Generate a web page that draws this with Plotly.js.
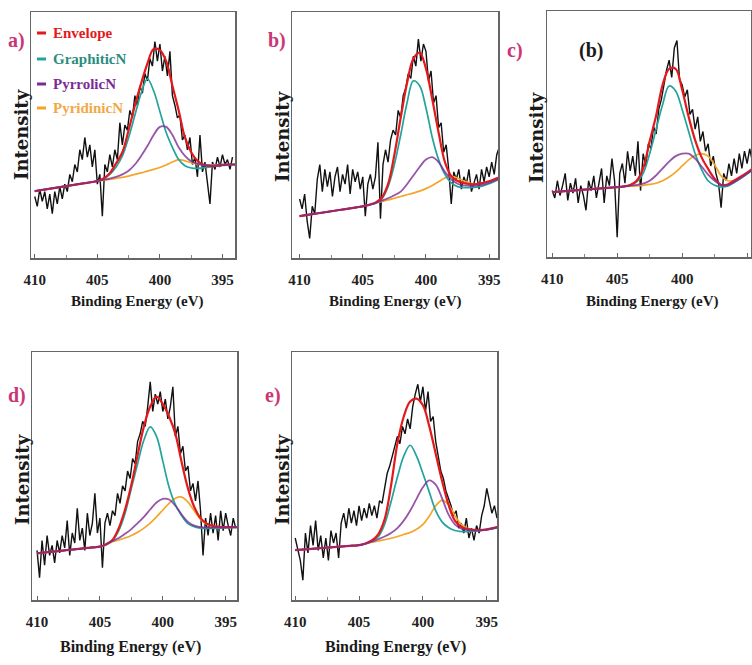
<!DOCTYPE html>
<html><head><meta charset="utf-8">
<script src="https://cdn.plot.ly/plotly-3.0.1.min.js"></script>
<style>html,body{margin:0;padding:0;background:#fff}#chart{width:752px;height:665px}</style>
</head><body><div id="chart"></div>
<script>
// Binding energy grids (eV)
const RAW_X = [
410.0,409.8,409.6,409.4,409.2,409.0,408.8,408.6,408.4,408.2,
408.0,407.8,407.6,407.4,407.2,407.0,406.8,406.6,406.4,406.2,
406.0,405.8,405.6,405.4,405.2,405.0,404.8,404.6,404.4,404.2,
404.0,403.8,403.6,403.4,403.2,403.0,402.8,402.6,402.4,402.2,
402.0,401.8,401.6,401.4,401.2,401.0,400.8,400.6,400.4,400.2,
400.0,399.8,399.6,399.4,399.2,399.0,398.8,398.6,398.4,398.2,
398.0,397.8,397.6,397.4,397.2,397.0,396.8,396.6,396.4,396.2,
396.0,395.8,395.6,395.4,395.2,395.0,394.8,394.6,394.4,394.2];
const FIT_X = [410,409.5,409,408.5,408,407.5,407,406.5,406,405.5,405,404.5,404,403.5,403,402.5,402,401.5,401,400.5,400,399.5,399,398.5,398,397.5,397,396.5,396,395.5,395,394.5,394];

// Panel a
const RAW_A = [25,21,28,23,27,20,26,18,27,22, 29,24,30,27,34,31,38,35,44,40, 49,41,46,37,44,30,34,17,38,35, 42,37,44,40,55,46,54,52,60,57, 66,62,70,67,75,72,81,78,88,80, 87,76,82,74,84,66,62,57,58,48, 50,44,49,38,41,33,50,35,39,30, 22,39,36,41,37,42,38,40,36,41];
const ENV_A = [27.2,27.6,28.0,28.4,28.8,29.2,29.6,30.0,30.4,30.8,31.3,32.3,34.5,38.5,43,52,62,71,79,85,84.5,80,70,60,49,43,39.5,37.8,37.4,37.5,37.8,38,38];
const GRA_A = [27.2,27.6,28.0,28.4,28.8,29.2,29.6,30.0,30.4,30.8,31.3,32.2,34,37,41.5,49,58,67,72.8,68,59.5,51,45,40,37.5,36.6,36.4,36.6,37,37.3,37.6,37.8,38];
const PYR_A = [27.2,27.6,28.0,28.4,28.8,29.2,29.6,30.0,30.4,30.8,31.3,31.8,32.3,33,34,35.5,38,41.5,45.5,50,53.3,53.3,50,45,41.5,39.3,38.3,37.8,37.6,37.7,37.9,38,38];
const PYD_A = [27.2,27.6,28.0,28.4,28.8,29.2,29.6,30.0,30.4,30.8,31.3,31.6,32,32.4,32.8,33.3,34,34.6,35.3,36,36.8,37.8,39,40,39.5,38.7,38.2,38,37.9,37.9,38,38,38];

// Panel b
const RAW_B = [24,20,26,15,8,21,18,32,38,27, 36,29,35,25,33,37,27,34,30,38, 26,36,31,35,28,33,17,30,34,28, 33,47,16,38,44,39,48,52,50,60, 57,66,69,75,73,82,78,89,80,87, 84,72,76,63,66,53,55,43,46,36, 22,35,32,36,28,33,30,36,27,31, 34,28,36,31,37,33,39,34,42,45];
const ENV_B = [17,17.4,17.8,18.2,18.6,19,19.4,19.8,20.2,20.6,21,21.6,22.5,24.5,30,42,57,71,81,83.5,77,64.5,51,39,33.3,31.3,30.5,30,30,30.5,31.2,32.2,33];
const GRA_B = [17,17.4,17.8,18.2,18.6,19,19.4,19.8,20.2,20.6,21,21.6,22.3,24,29,38,50,63,72,70,61,49,40,34,30.5,29,28.6,28.6,28.8,29.3,30.2,31.3,32.5];
const PYR_B = [17,17.4,17.8,18.2,18.6,19,19.4,19.8,20.2,20.6,21,21.6,22.3,23.3,24.3,25.5,27,30,33.5,37,40,41,39,35,32,30.2,29.5,29.3,29.4,29.8,30.6,31.6,32.7];
const PYD_B = [17,17.4,17.8,18.2,18.6,19,19.4,19.8,20.2,20.6,21,21.6,22.3,23,23.6,24.3,25,25.7,26.4,27.2,28.2,29.5,31,32.5,33.2,32.5,31.3,30.4,30,30.3,31,32,33];

// Panel c
const RAW_C = [27,24,31,25,29,34,23,30,26,32, 22,29,25,19,31,27,33,24,30,36, 22,33,29,40,31,8,34,38,30,43, 35,41,33,47,27,42,37,46,44,53, 50,60,64,71,76,80,73,85,88,72, 70,65,68,58,60,52,57,47,51,43, 46,37,41,34,30,20,34,31,38,33, 40,34,42,36,43,38,44,39,45,41];
const ENV_C = [26.4,26.6,26.8,27,27.2,27.4,27.6,27.8,28,28.2,28.4,28.7,29.3,31,36,47,57.5,70,76.5,76.5,68,57,47.5,40.5,35.8,31.8,29.3,29.5,31,32.6,34.3,36.2,38];
const GRA_C = [26.4,26.6,26.8,27,27.2,27.4,27.6,27.8,28,28.2,28.4,28.6,29.2,30.5,34,42,52,62,69.5,67.5,60,51,42,35.5,31,29.2,28.5,28.8,30.3,32,33.8,35.8,37.8];
const PYR_C = [26.4,26.6,26.8,27,27.2,27.4,27.6,27.8,28,28.2,28.4,28.6,29,29.3,29.8,31,33.2,36,38.8,41,42,42,40,36.8,33.5,31,29.3,29.2,30.4,32,33.8,35.8,37.8];
const PYD_C = [26.4,26.6,26.8,27,27.2,27.4,27.6,27.8,28,28.2,28.4,28.6,28.8,28.9,29.1,29.5,30,31,32.5,34.5,37,39.5,41.3,42,41,37.5,33,31,31.2,32.5,34,36,38];

// Panel d
const RAW_D = [20,9,24,14,26,18,22,15,24,19, 26,21,32,18,27,23,37,24,29,20, 35,26,31,43,27,33,13,31,35,30, 36,34,43,39,46,44,52,49,57,55, 64,67,72,70,78,88,76,83,79,84, 76,81,73,78,86,66,70,59,62,52, 54,44,47,40,48,36,18,33,26,35, 27,34,24,36,28,35,30,26,33,29];
const ENV_D = [18.8,19.1,19.4,19.6,19.9,20.2,20.4,20.7,21,21.2,21.5,22.5,24.2,29,36.5,46.5,58.5,70,78,82,79,74,67,55.5,45,37.5,33,30.8,29.8,29.5,29.4,29.4,29.4];
const GRA_D = [18.8,19.1,19.4,19.6,19.9,20.2,20.4,20.7,21,21.2,21.5,22.4,24,28,35,45,55,64.5,69.8,66,56,45.5,38.5,34,30.8,29.6,29,28.9,28.9,29,29.1,29.2,29.3];
const PYR_D = [18.8,19.1,19.4,19.6,19.9,20.2,20.4,20.7,21,21.2,21.5,22.5,23.8,25,26.7,28.6,31,33.5,36.5,39.3,40.8,40.5,38,34.5,31.5,30,29.4,29.2,29.2,29.3,29.3,29.4,29.4];
const PYD_D = [18.8,19.1,19.4,19.6,19.9,20.2,20.4,20.7,21,21.2,21.5,22.2,23.5,24.2,25,26,27.3,29,31,33.5,36.3,39,41,41.5,39.5,36,32.5,30.5,29.6,29.4,29.4,29.4,29.4];

// Panel e
const RAW_E = [25,21,16,8,27,19,30,22,32,20, 26,17,25,16,28,23,27,17,31,35, 29,37,31,36,30,38,32,37,33,39, 34,38,33,40,39,45,51,54,58,62, 66,63,70,67,73,69,78,83,87,80, 86,76,84,72,74,64,58,52,49,44, 41,38,34,36,29,31,27,33,25,29, 24,30,27,34,38,45,40,35,38,33];
const ENV_E = [20.1,20.3,20.5,20.7,20.9,21.1,21.3,21.5,21.7,21.9,22.1,22.8,24,26.5,32.5,46,63,74,80,81.2,78.5,70,59,48,38.5,32,29.5,28.6,28.3,28.2,28.5,29,29.6];
const GRA_E = [20.1,20.3,20.5,20.7,20.9,21.1,21.3,21.5,21.7,21.9,22.1,22.7,23.9,25.5,30.5,39.5,49.5,58,62.4,58,51,43.5,36,31.5,29.2,28,27.6,27.6,27.8,28,28.3,28.8,29.4];
const PYR_E = [20.1,20.3,20.5,20.7,20.9,21.1,21.3,21.5,21.7,21.9,22.1,22.7,23.5,24.5,25.6,27,29,32,36,40.8,45.5,48.2,46.5,41,34.5,30.5,28.8,28.2,28.1,28.1,28.4,28.9,29.5];
const PYD_E = [20.1,20.3,20.5,20.7,20.9,21.1,21.3,21.5,21.7,21.9,22.1,22.6,23.3,23.8,24.3,24.9,25.6,26.4,27.2,28.5,30.5,33.8,38,40.2,38.5,34,30.5,28.8,28.2,28.1,28.4,28.9,29.5];

const X_TICKS = [410,405,400,395];
const X_MINOR = [407.5,402.5,397.5];
const PANEL_LABELS = ['a)','b)','c)','d)','e)'];
const LEGEND_NAMES = ['Envelope','GraphiticN','PyrrolicN','PyridinicN'];
const X_TITLE = 'Binding Energy (eV)';
const Y_TITLE = 'Intensity';

const W = 752, H = 665;
const fx = p => p / W, fy = p => 1 - p / H;
const C = {raw:'#111111', env:'#e3191c', gra:'#22a39c', pyr:'#7d2a95', pyd:'#f5a52a'};
const SERIF = 'Liberation Serif';

const panels = [
  {raw:RAW_A, env:ENV_A, gra:GRA_A, pyr:PYR_A, pyd:PYD_A, box:[31,12,235,258], range:[410.3,394.0], lab:[16,40], yt:[22,135], xt:[137,302]},
  {raw:RAW_B, env:ENV_B, gra:GRA_B, pyr:PYR_B, pyd:PYD_B, box:[292,12,498,258], range:[410.6,394.3], lab:[277,40], yt:[282,137], xt:[395,302]},
  {raw:RAW_C, env:ENV_C, gra:GRA_C, pyr:PYR_C, pyd:PYD_C, box:[547,11,751,257], range:[410.4,394.7], lab:[515,50], yt:[536,138], xt:[652,302]},
  {raw:RAW_D, env:ENV_D, gra:GRA_D, pyr:PYR_D, pyd:PYD_D, box:[32,352,237,600], range:[410.4,394.1], lab:[17,395], yt:[22,480], xt:[130,647]},
  {raw:RAW_E, env:ENV_E, gra:GRA_E, pyr:PYR_E, pyd:PYD_E, box:[292,352,497,600], range:[410.25,394.2], lab:[273,395], yt:[282,480], xt:[395,647]}
];

const data = [], layout = {
  width: W, height: H, margin:{l:0,r:0,t:0,b:0},
  paper_bgcolor:'#fff', plot_bgcolor:'#fff', showlegend:false,
  annotations: [], shapes: []
};
const tickFont = {family:SERIF, size:15, color:'#222', weight:'bold'};

panels.forEach((p, i) => {
  const n = i + 1, xs = 'x' + (n===1?'':n), ys = 'y' + (n===1?'':n);
  const line = (x, y, color, width, op) => ({x, y, xaxis:xs, yaxis:ys, type:'scatter', mode:'lines',
    line:{color, width, shape: x===FIT_X ? 'spline' : 'linear', smoothing:1}, opacity: op||1, hoverinfo:'skip'});
  data.push(line(RAW_X, p.raw, C.raw, 1.4));
  data.push(line(FIT_X, p.pyd, C.pyd, 1.7));
  data.push(line(FIT_X, p.gra, C.gra, 1.7));
  data.push(line(FIT_X, p.env, C.env, 2.2));
  data.push(line(FIT_X, p.pyr, C.pyr, 1.8, 0.8));
  const [l,t,r,b] = p.box;
  layout['xaxis' + (n===1?'':n)] = {
    domain:[fx(l), fx(r)], anchor: ys, range:p.range, autorange:false,
    tickmode:'array', tickvals:X_TICKS, ticktext:X_TICKS.map(String),
    ticks:'inside', ticklen:4, tickwidth:1, tickcolor:'#666',
    minor:{tickvals:X_MINOR, ticks:'inside', ticklen:3, tickcolor:'#888'},
    showline:true, mirror:true, linecolor:'#666', linewidth:1.5,
    showgrid:false, zeroline:false, tickfont:tickFont, ticklabelstandoff:7
  };
  layout['yaxis' + (n===1?'':n)] = {
    domain:[fy(b), fy(t)], anchor: xs, range:[0,100], autorange:false,
    showticklabels:false, ticks:'', showline:true, mirror:true, linecolor:'#666', linewidth:1.5,
    showgrid:false, zeroline:false
  };
  layout.annotations.push({xref:'paper', yref:'paper', x:fx(p.lab[0]), y:fy(p.lab[1]), text:'<b>'+PANEL_LABELS[i]+'</b>',
    showarrow:false, xanchor:'center', yanchor:'middle', font:{family:SERIF, size:20, color:'#cc3574'}});
  layout.annotations.push({xref:'paper', yref:'paper', x:fx(p.yt[0]), y:fy(p.yt[1]), text:'<b>'+Y_TITLE+'</b>', textangle:-90,
    showarrow:false, xanchor:'center', yanchor:'middle', font:{family:'DejaVu Serif', size:18, color:'#1a1a1a'}});
  layout.annotations.push({xref:'paper', yref:'paper', x:fx(p.xt[0]), y:fy(p.xt[1]), text:'<b>'+X_TITLE+'</b>',
    showarrow:false, xanchor:'center', yanchor:'middle', font:{family:SERIF, size: i<3 ? 15 : 16, color:'#1a1a1a'}});
});

// "(b)" inside panel c
layout.annotations.push({xref:'paper', yref:'paper', x:fx(591), y:fy(50), text:'<b>(b)</b>', showarrow:false,
  xanchor:'center', yanchor:'middle', font:{family:SERIF, size:20, color:'#1a1a1a'}});

// Legend in panel a
const legColors = [C.env, '#2b8c80', C.pyr, '#f2a845'];
const legLine = [C.env, C.gra, C.pyr, C.pyd];
const legY = [33, 59, 84, 108];
LEGEND_NAMES.forEach((name, k) => {
  layout.shapes.push({type:'line', xref:'paper', yref:'paper', x0:fx(37), x1:fx(46), y0:fy(legY[k]), y1:fy(legY[k]),
    line:{color: legLine[k], width:3}});
  layout.annotations.push({xref:'paper', yref:'paper', x:fx(51), y:fy(legY[k]), text:'<b>'+name+'</b>', showarrow:false,
    xanchor:'left', yanchor:'middle', font:{family:SERIF, size:15, color:legColors[k]}});
});

Plotly.newPlot('chart', data, layout, {staticPlot:true, displayModeBar:false});
</script></body></html>
